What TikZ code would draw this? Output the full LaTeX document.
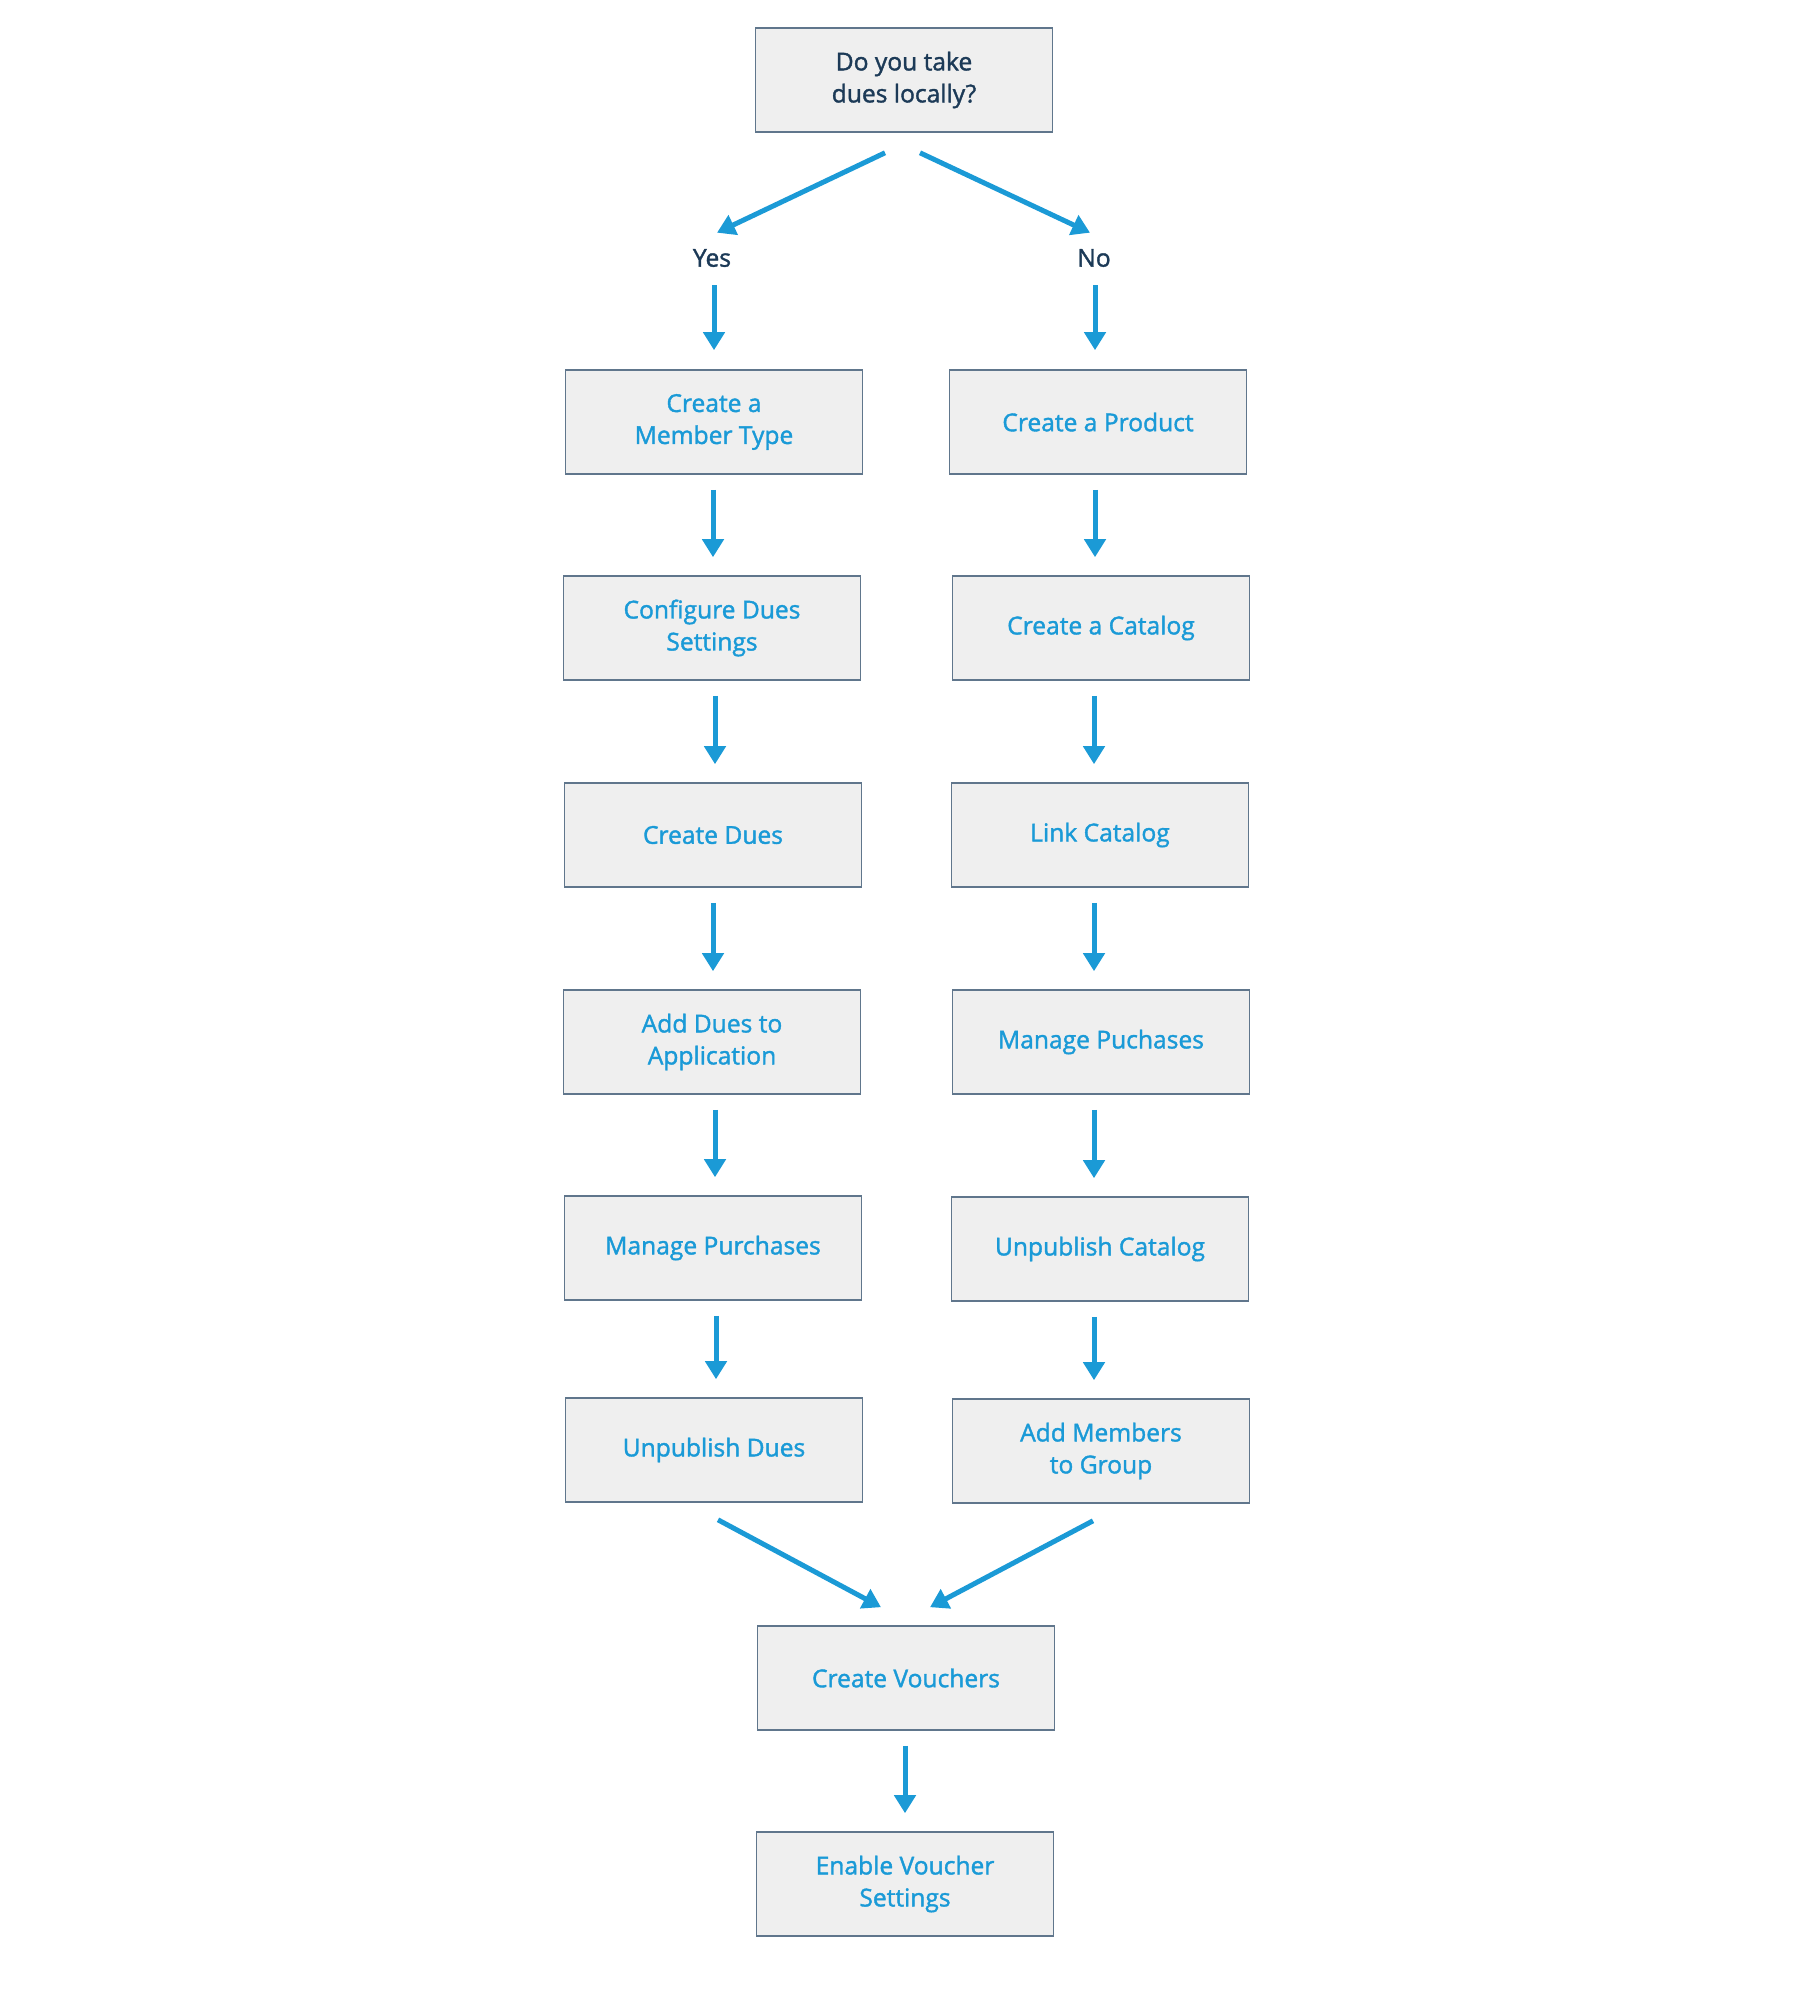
\documentclass[tikz,border=0pt]{standalone}
\usepackage{fontspec}
\setmainfont{Open Sans}
\newfontfamily\semib{Open Sans}[FakeBold=1.5]
\usetikzlibrary{arrows.meta,calc}
\definecolor{arrblue}{HTML}{1B9AD6}
\definecolor{txtblue}{HTML}{1A9AD7}
\definecolor{navy}{HTML}{1C3A57}
\definecolor{boxfill}{HTML}{EFEFEF}
\definecolor{boxline}{HTML}{60768C}
\tikzset{
  stepbox/.style={draw=boxline, line width=0.8pt, fill=boxfill, minimum width=148.5pt, minimum height=52pt, align=center, text=txtblue, font=\semib\fontsize{12.3pt}{16pt}\selectfont, inner sep=0pt},
  qbox/.style={stepbox, text=navy},
  lbl/.style={text=navy, font=\semib\fontsize{12.3pt}{16pt}\selectfont, inner sep=0pt},
  flow/.style={draw=arrblue, line width=2.5pt, -{Triangle[width=10.5pt,length=9pt]}},
  vflow/.style={flow, shorten <=7.5pt, shorten >=9pt}
}
\begin{document}
\begin{tikzpicture}[x=0.5pt,y=-0.5pt]
\useasboundingbox (0,0) rectangle (1810,1990);
\node[qbox] (q) at (904,80) {Do you take\\dues locally?};
\node[lbl] (yes) at (712,258) {Yes};
\node[lbl] (no) at (1094,258) {No};
\node[stepbox] (l1) at (714,422) {Create a\\Member Type};
\node[stepbox] (l2) at (712,628) {Configure Dues\\Settings};
\node[stepbox] (l3) at (713,835) {Create Dues};
\node[stepbox] (l4) at (712,1042) {Add Dues to\\Application};
\node[stepbox] (l5) at (713,1248) {Manage Purchases};
\node[stepbox] (l6) at (714,1450) {Unpublish Dues};
\node[stepbox] (r1) at (1098,422) {Create a Product};
\node[stepbox] (r2) at (1101,628) {Create a Catalog};
\node[stepbox] (r3) at (1100,835) {Link Catalog};
\node[stepbox] (r4) at (1101,1042) {Manage Puchases};
\node[stepbox] (r5) at (1100,1249) {Unpublish Catalog};
\node[stepbox] (r6) at (1101,1451) {Add Members\\to Group};
\node[stepbox] (cv) at (906,1678) {Create Vouchers};
\node[stepbox] (ev) at (905,1884) {Enable Voucher\\Settings};
% split arrows
\coordinate (qa) at ($(q.south)+(-19,20)$);
\coordinate (qb) at ($(q.south)+(16,20)$);
\coordinate (ya) at ($(yes.north)+(5,-16)$);
\coordinate (na) at ($(no.north)+(-4,-16)$);
\draw[flow] (qa) -- (ya);
\draw[flow] (qb) -- (na);
\coordinate (ys) at ($(yes.south)+(2,18)$);
\coordinate (ns) at ($(no.south)+(1,18)$);
\draw[flow] (ys) -- ($(ys |- l1.north)+(0,-19)$);
\draw[flow] (ns) -- ($(ns |- r1.north)+(0,-19)$);
% vertical chains
\foreach \a/\b/\d in {l1/l2/-1,l2/l3/3,l3/l4/0,l4/l5/3,l5/l6/3,r1/r2/-3,r2/r3/-7,r3/r4/-6,r4/r5/-7,r5/r6/-6,cv/ev/-1}{
  \draw[vflow] ($(\a.south)+(\d,0)$) -- ($(\a.south |- \b.north)+(\d,0)$);
}
% merge arrows
\coordinate (la) at ($(l6.south)+(4,17)$);
\coordinate (ra) at ($(r6.south)+(-8,17)$);
\coordinate (cl) at ($(cv.north)+(-25,-18)$);
\coordinate (cr) at ($(cv.north)+(24,-18)$);
\draw[flow] (la) -- (cl);
\draw[flow] (ra) -- (cr);
\end{tikzpicture}
\end{document}
